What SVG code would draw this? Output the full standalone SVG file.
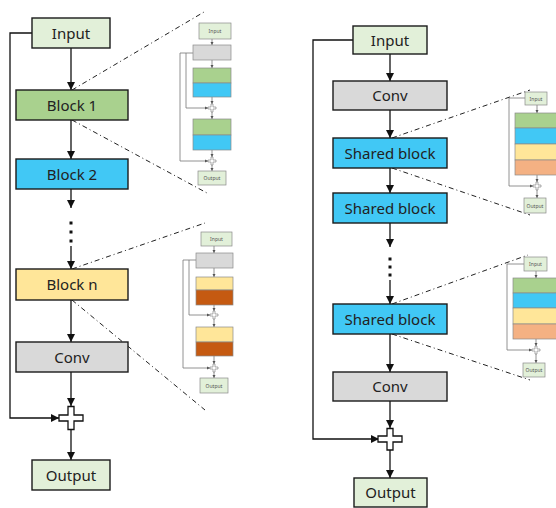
<svg xmlns="http://www.w3.org/2000/svg" width="556" height="508" viewBox="0 0 556 508">
  <defs>
    <marker id="arr" markerUnits="userSpaceOnUse" markerWidth="9" markerHeight="9" refX="8" refY="4" orient="auto">
      <path d="M0,0 L8,4 L0,8 z" fill="#111"/>
    </marker>
    <marker id="arrS" markerUnits="userSpaceOnUse" markerWidth="4" markerHeight="4" refX="3.5" refY="1.75" orient="auto">
      <path d="M0,0 L3.5,1.75 L0,3.5 z" fill="#555"/>
    </marker>
    <style>
      .box { stroke: #1a1a1a; stroke-width: 1.4; }
      .lbl { font-family: "Noto Sans", "Liberation Sans", sans-serif; font-size: 15px; fill: #222; text-anchor: middle; }
      .tiny { font-family: "Noto Sans", "Liberation Sans", sans-serif; font-size: 5px; fill: #555; text-anchor: middle; }
      .wire { stroke: #111; stroke-width: 1.3; fill: none; }
      .wireS { stroke: #777; stroke-width: 0.8; fill: none; }
      .sbox { stroke: #8a8a8a; stroke-width: 0.7; }
      .zoomline { stroke: #222; stroke-width: 1; stroke-dasharray: 5 3 1 3; fill: none; }
      .plus { fill: #fff; stroke: #111; stroke-width: 1.3; }
      .plusS { fill: #fff; stroke: #777; stroke-width: 0.6; }
      .inp { fill: #e2f0d9; }
      .grn { fill: #a9d18e; }
      .blu { fill: #41c8f5; }
      .ylw { fill: #ffe699; }
      .gry { fill: #d9d9d9; }
      .brn { fill: #c55a11; }
      .pch { fill: #f4b183; }
    </style>
  </defs>

  <!-- ===== Left network: stacked distinct blocks ===== -->
  <g id="connectors-left">
    <line class="wire" x1="71" y1="48" x2="71" y2="90" marker-end="url(#arr)"/>
    <line class="wire" x1="71" y1="120" x2="71" y2="159" marker-end="url(#arr)"/>
    <line class="wire" x1="71" y1="189" x2="71" y2="208" marker-end="url(#arr)"/>
    <rect x="69.5" y="221.5" width="3" height="3" fill="#111"/>
    <rect x="69.5" y="230.5" width="3" height="3" fill="#111"/>
    <rect x="69.5" y="239.5" width="3" height="3" fill="#111"/>
    <line class="wire" x1="71" y1="246" x2="71" y2="269" marker-end="url(#arr)"/>
    <line class="wire" x1="71" y1="300" x2="71" y2="342" marker-end="url(#arr)"/>
    <line class="wire" x1="71" y1="372" x2="71" y2="406" marker-end="url(#arr)"/>
    <line class="wire" x1="71" y1="430" x2="71" y2="460" marker-end="url(#arr)"/>
    <path class="wire" d="M32,33 H10 V418 H59" marker-end="url(#arr)"/>
    <!-- zoom guides -->
    <line class="zoomline" x1="72" y1="90" x2="204" y2="12"/>
    <line class="zoomline" x1="72" y1="120" x2="207" y2="193"/>
    <line class="zoomline" x1="72" y1="269" x2="205" y2="223"/>
    <line class="zoomline" x1="72" y1="300" x2="205" y2="410"/>
  </g>

  <g id="l-input"><rect class="box inp" x="32" y="18" width="78" height="30"/><text class="lbl" x="71" y="38.5">Input</text></g>
  <g id="l-block1"><rect class="box grn" x="16" y="90" width="112" height="30"/><text class="lbl" x="72" y="110.5">Block 1</text></g>
  <g id="l-block2"><rect class="box blu" x="16" y="159" width="112" height="30"/><text class="lbl" x="72" y="179.5">Block 2</text></g>
  <g id="l-blockn"><rect class="box ylw" x="16" y="269" width="112" height="31"/><text class="lbl" x="72" y="290">Block n</text></g>
  <g id="l-conv"><rect class="box gry" x="16" y="342" width="112" height="30"/><text class="lbl" x="72" y="362.5">Conv</text></g>
  <g id="l-add"><path class="plus" d="M68,406.5 h6 v8.5 h9 v6 h-9 v8.5 h-6 v-8.5 h-9 v-6 h9 z"/></g>
  <g id="l-output"><rect class="box inp" x="32" y="460" width="78" height="30"/><text class="lbl" x="71" y="480.5">Output</text></g>

  <!-- detail: Block 1 / Block 2 internals -->
  <g id="l-detail1">
    <path class="wireS" d="M193,53 H180 V161 H208" marker-end="url(#arrS)"/>
    <path class="wireS" d="M186,53 V108 H208" marker-end="url(#arrS)"/>
    <line class="wireS" x1="212" y1="39" x2="212" y2="45" marker-end="url(#arrS)"/>
    <line class="wireS" x1="212" y1="60" x2="212" y2="68" marker-end="url(#arrS)"/>
    <line class="wireS" x1="212" y1="97" x2="212" y2="104" marker-end="url(#arrS)"/>
    <line class="wireS" x1="212" y1="112" x2="212" y2="119" marker-end="url(#arrS)"/>
    <line class="wireS" x1="212" y1="150" x2="212" y2="157" marker-end="url(#arrS)"/>
    <line class="wireS" x1="212" y1="165" x2="212" y2="171" marker-end="url(#arrS)"/>
    <rect class="sbox inp" x="199" y="23" width="32" height="16"/><text class="tiny" x="215" y="33">Input</text>
    <rect class="sbox gry" x="193" y="45" width="38" height="15"/>
    <rect class="sbox grn" x="193" y="68" width="38" height="15"/>
    <rect class="sbox blu" x="193" y="83" width="38" height="14"/>
    <path class="plusS" d="M211,104 h2 v3 h3 v2 h-3 v3 h-2 v-3 h-3 v-2 h3 z"/>
    <rect class="sbox grn" x="193" y="119" width="38" height="16"/>
    <rect class="sbox blu" x="193" y="135" width="38" height="15"/>
    <path class="plusS" d="M211,157 h2 v3 h3 v2 h-3 v3 h-2 v-3 h-3 v-2 h3 z"/>
    <rect class="sbox inp" x="198" y="171" width="28" height="14"/><text class="tiny" x="212" y="180">Output</text>
  </g>

  <!-- detail: Block n internals -->
  <g id="l-detail2">
    <path class="wireS" d="M196,260 H183 V368 H210" marker-end="url(#arrS)"/>
    <path class="wireS" d="M189,260 V315 H210" marker-end="url(#arrS)"/>
    <line class="wireS" x1="214" y1="246" x2="214" y2="253" marker-end="url(#arrS)"/>
    <line class="wireS" x1="214" y1="268" x2="214" y2="277" marker-end="url(#arrS)"/>
    <line class="wireS" x1="214" y1="305" x2="214" y2="311" marker-end="url(#arrS)"/>
    <line class="wireS" x1="214" y1="319" x2="214" y2="327" marker-end="url(#arrS)"/>
    <line class="wireS" x1="214" y1="356" x2="214" y2="364" marker-end="url(#arrS)"/>
    <line class="wireS" x1="214" y1="372" x2="214" y2="378" marker-end="url(#arrS)"/>
    <rect class="sbox inp" x="201" y="232" width="31" height="14"/><text class="tiny" x="216.5" y="241">Input</text>
    <rect class="sbox gry" x="196" y="253" width="37" height="15"/>
    <rect class="sbox ylw" x="196" y="277" width="37" height="13"/>
    <rect class="sbox brn" x="196" y="290" width="37" height="15"/>
    <path class="plusS" d="M213,311 h2 v3 h3 v2 h-3 v3 h-2 v-3 h-3 v-2 h3 z"/>
    <rect class="sbox ylw" x="196" y="327" width="37" height="15"/>
    <rect class="sbox brn" x="196" y="342" width="37" height="14"/>
    <path class="plusS" d="M213,364 h2 v3 h3 v2 h-3 v3 h-2 v-3 h-3 v-2 h3 z"/>
    <rect class="sbox inp" x="200" y="378" width="28" height="15"/><text class="tiny" x="214" y="387.5">Output</text>
  </g>

  <!-- ===== Right network: one shared block reused ===== -->
  <g id="connectors-right">
    <line class="wire" x1="390" y1="54" x2="390" y2="81" marker-end="url(#arr)"/>
    <line class="wire" x1="390" y1="110" x2="390" y2="138" marker-end="url(#arr)"/>
    <line class="wire" x1="390" y1="168" x2="390" y2="193" marker-end="url(#arr)"/>
    <line class="wire" x1="390" y1="223" x2="390" y2="247" marker-end="url(#arr)"/>
    <rect x="388.5" y="257.5" width="3" height="3" fill="#111"/>
    <rect x="388.5" y="265.5" width="3" height="3" fill="#111"/>
    <rect x="388.5" y="273.5" width="3" height="3" fill="#111"/>
    <line class="wire" x1="390" y1="280" x2="390" y2="304" marker-end="url(#arr)"/>
    <line class="wire" x1="390" y1="334" x2="390" y2="372" marker-end="url(#arr)"/>
    <line class="wire" x1="390" y1="401" x2="390" y2="428" marker-end="url(#arr)"/>
    <line class="wire" x1="390" y1="450" x2="390" y2="478" marker-end="url(#arr)"/>
    <path class="wire" d="M353,40 H313 V439 H379" marker-end="url(#arr)"/>
    <!-- zoom guides -->
    <line class="zoomline" x1="392" y1="138" x2="530" y2="90"/>
    <line class="zoomline" x1="392" y1="168" x2="530" y2="215"/>
    <line class="zoomline" x1="392" y1="304" x2="528" y2="255"/>
    <line class="zoomline" x1="392" y1="334" x2="530" y2="380"/>
  </g>

  <g id="r-input"><rect class="box inp" x="353" y="26" width="74" height="28"/><text class="lbl" x="390" y="45.5">Input</text></g>
  <g id="r-conv1"><rect class="box gry" x="333" y="81" width="114" height="29"/><text class="lbl" x="390" y="101">Conv</text></g>
  <g id="r-shared1"><rect class="box blu" x="333" y="138" width="114" height="30"/><text class="lbl" x="390" y="158.5">Shared block</text></g>
  <g id="r-shared2"><rect class="box blu" x="333" y="193" width="114" height="30"/><text class="lbl" x="390" y="213.5">Shared block</text></g>
  <g id="r-shared3"><rect class="box blu" x="333" y="304" width="114" height="30"/><text class="lbl" x="390" y="324.5">Shared block</text></g>
  <g id="r-conv2"><rect class="box gry" x="333" y="372" width="114" height="29"/><text class="lbl" x="390" y="392">Conv</text></g>
  <g id="r-add"><path class="plus" d="M387,428.5 h6 v7.5 h9 v6 h-9 v8 h-6 v-8 h-9 v-6 h9 z"/></g>
  <g id="r-output"><rect class="box inp" x="354" y="478" width="73" height="29"/><text class="lbl" x="390.5" y="498">Output</text></g>

  <!-- detail: shared block internals (upper) -->
  <g id="r-detail1">
    <path class="wireS" d="M525,98 H509 V186 H533" marker-end="url(#arrS)"/>
    <line class="wireS" x1="537" y1="105" x2="537" y2="113" marker-end="url(#arrS)"/>
    <line class="wireS" x1="537" y1="175" x2="537" y2="182" marker-end="url(#arrS)"/>
    <line class="wireS" x1="537" y1="190" x2="537" y2="198" marker-end="url(#arrS)"/>
    <rect class="sbox inp" x="525" y="92" width="22" height="13"/><text class="tiny" x="536" y="100.5">Input</text>
    <rect class="sbox grn" x="515" y="113" width="45" height="15"/>
    <rect class="sbox blu" x="515" y="128" width="45" height="16"/>
    <rect class="sbox ylw" x="515" y="144" width="45" height="16"/>
    <rect class="sbox pch" x="515" y="160" width="45" height="15"/>
    <path class="plusS" d="M536,182 h2 v3 h3 v2 h-3 v3 h-2 v-3 h-3 v-2 h3 z"/>
    <rect class="sbox inp" x="524" y="198" width="22" height="15"/><text class="tiny" x="535" y="207.5">Output</text>
  </g>

  <!-- detail: shared block internals (lower) -->
  <g id="r-detail2">
    <path class="wireS" d="M524,264 H507 V350 H532" marker-end="url(#arrS)"/>
    <line class="wireS" x1="536" y1="271" x2="536" y2="278" marker-end="url(#arrS)"/>
    <line class="wireS" x1="536" y1="339" x2="536" y2="346" marker-end="url(#arrS)"/>
    <line class="wireS" x1="536" y1="354" x2="536" y2="363" marker-end="url(#arrS)"/>
    <rect class="sbox inp" x="524" y="257" width="23" height="14"/><text class="tiny" x="535.5" y="265.5">Input</text>
    <rect class="sbox grn" x="513" y="278" width="47" height="15"/>
    <rect class="sbox blu" x="513" y="293" width="47" height="15"/>
    <rect class="sbox ylw" x="513" y="308" width="47" height="16"/>
    <rect class="sbox pch" x="513" y="324" width="47" height="15"/>
    <path class="plusS" d="M535,346 h2 v3 h3 v2 h-3 v3 h-2 v-3 h-3 v-2 h3 z"/>
    <rect class="sbox inp" x="523" y="363" width="22" height="14"/><text class="tiny" x="534" y="372">Output</text>
  </g>
</svg>
